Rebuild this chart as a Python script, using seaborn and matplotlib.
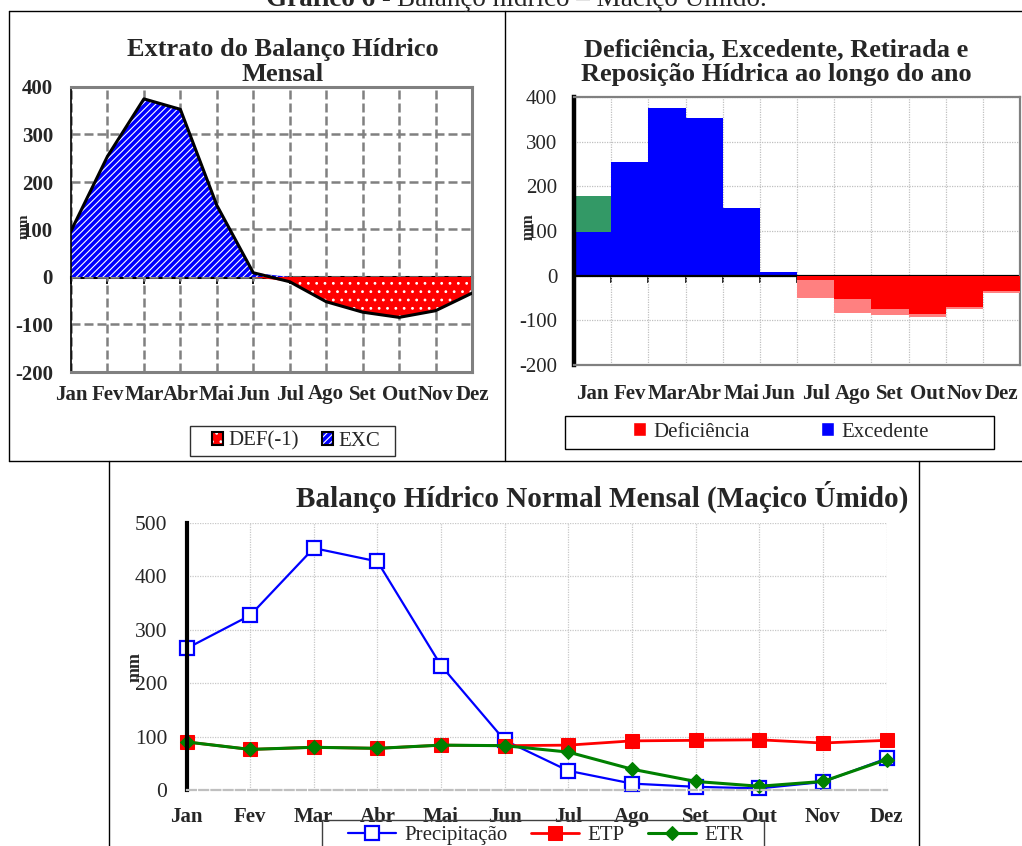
import numpy as np
import matplotlib
matplotlib.use("Agg")
import matplotlib.pyplot as plt
from matplotlib.patches import Patch, Rectangle
from matplotlib.lines import Line2D
from matplotlib.ticker import FixedLocator
import seaborn as sns

# ---------------- data (mm) ----------------
meses = ["Jan", "Fev", "Mar", "Abr", "Mai", "Jun", "Jul", "Ago", "Set", "Out", "Nov", "Dez"]

excedente = [97, 254, 375, 353, 151, 9, 0, 0, 0, 0, 0, 0]
deficiencia = [0, 0, 0, 0, 0, 0, -10, -52, -74, -85, -71, -34]   # DEF(-1)
retirada = [0, 0, 0, 0, 0, 0, -40, -31, -13, -7, -3, -5]
reposicao = [81, 0, 0, 0, 0, 0, 0, 0, 0, 0, 0, 0]

precipitacao = [265, 327, 453, 428, 233, 93, 36, 12, 6, 3, 15, 59]
etp = [90, 76, 80, 78, 84, 83, 84, 92, 93, 94, 88, 93]
etr = [90, 76, 80, 78, 84, 83, 71, 39, 16, 7, 16, 57]

yticks_balanco = [-200, -100, 0, 100, 200, 300, 400]
yticks_normal = [0, 100, 200, 300, 400, 500]

# ---------------- style ----------------
sns.set_style("white")
SERIF = ["Liberation Serif", "DejaVu Serif"]
plt.rcParams["font.family"] = SERIF
plt.rcParams["hatch.linewidth"] = 0.8
plt.rcParams["axes.unicode_minus"] = False

W, H = 1022, 846
fig = plt.figure(figsize=(W / 100, H / 100), dpi=100)


def box(x0, y0, x1, y1):
    """Pixel box (top-left origin) -> figure fraction rect."""
    return [x0 / W, 1 - y1 / H, (x1 - x0) / W, (y1 - y0) / H]


def fpt(x, y):
    return x / W, 1 - y / H


def hline(y, x0, x1, **kw):
    fig.add_artist(Line2D([x0 / W, x1 / W], [1 - y / H, 1 - y / H],
                          transform=fig.transFigure, **kw))


def vline(x, y0, y1, **kw):
    fig.add_artist(Line2D([x / W, x / W], [1 - y0 / H, 1 - y1 / H],
                          transform=fig.transFigure, **kw))


def frame(x0, y0, x1, y1, **kw):
    fig.add_artist(Rectangle((x0 / W, 1 - y1 / H), (x1 - x0) / W, (y1 - y0) / H,
                             transform=fig.transFigure, fill=False, **kw))


x = np.arange(len(meses))
exc = np.array(excedente)
dfc = np.array(deficiencia)

# ---------------- header & table rules ----------------
fig.text(*fpt(391, 6), "Gráfico 6 -", fontsize=19.5, fontweight="bold",
         ha="right", va="baseline")
fig.text(*fpt(397, 6), "Balanço hídrico – Maciço Úmido.", fontsize=19.5,
         ha="left", va="baseline")
rule = dict(color="black", linewidth=1.0)
hline(11, 9, 1022, **rule)
hline(461, 9, 1022, **rule)
vline(9, 11, 461, **rule)
vline(505, 11, 461, **rule)
vline(109, 461, 846, **rule)
vline(919, 461, 846, **rule)

# ---------------- panel 1: extrato (area) ----------------
ax1 = fig.add_axes(box(71, 87, 472, 372))
ax1.fill_between(x, 0, exc, facecolor="#0000FF", edgecolor="white",
                 hatch="/////", linewidth=0, zorder=2)
ax1.fill_between(x, 0, dfc, facecolor="#FF0000", edgecolor="white",
                 hatch="..", linewidth=0, zorder=2)
sns.lineplot(x=x, y=exc + dfc, color="black", linewidth=2.2, ax=ax1, zorder=3)
ax1.set_xlim(0, 11)
ax1.set_ylim(-200, 400)
ax1.set_yticks(yticks_balanco)
ax1.set_xticks(x)
ax1.set_xticklabels(meses)
ax1.grid(True, color="#808080", linestyle=(0, (3.6, 1.6)), linewidth=1.8)
ax1.set_axisbelow(True)
for s in ["top", "right", "bottom"]:
    ax1.spines[s].set(color="#808080", linewidth=2.2)
ax1.spines["left"].set(color="black", linewidth=1.2)
ax1.tick_params(axis="y", direction="out", length=5, width=1, color="black",
                pad=8, labelsize=15)
ax1.tick_params(axis="x", length=0, pad=9, labelsize=15)
for t in ax1.get_xticklabels() + ax1.get_yticklabels():
    t.set_fontweight("bold")
z1 = ax1.secondary_xaxis(1 / 3)
z1.set_xticks(x)
z1.tick_params(length=5, width=1.3, color="black", labelbottom=False, labeltop=False)
for s in ["top", "bottom"]:
    z1.spines[s].set(color="black", linewidth=2.2)

fig.text(*fpt(283, 62), "Extrato do Balanço Hídrico\nMensal", fontsize=19,
         fontweight="bold", ha="center", va="center", linespacing=1.1)
fig.text(*fpt(24, 226), "mm", fontsize=11, fontweight="bold", rotation=90,
         ha="center", va="center")

hatch_border = Patch(facecolor="none", edgecolor="black", linewidth=1.5)
h_def = (Patch(facecolor="#FF0000", edgecolor="white", hatch="..", linewidth=0), hatch_border)
h_exc = (Patch(facecolor="#0000FF", edgecolor="white", hatch="/////", linewidth=0), hatch_border)
ax1.legend([h_def, h_exc], ["DEF(-1)", "EXC"], loc="center",
           bbox_to_anchor=fpt(296, 441), bbox_transform=fig.transFigure,
           ncol=2, frameon=False, fontsize=15, handlelength=0.55,
           handleheight=0.55, handletextpad=0.25, columnspacing=1.1)
frame(190, 426, 395, 456, edgecolor="#303030", linewidth=1.0)

# ---------------- panel 2: stacked columns ----------------
ax2 = fig.add_axes(box(574, 97, 1020, 365))
tot_pos = [e + r for e, r in zip(excedente, reposicao)]
tot_neg = [d + r for d, r in zip(deficiencia, retirada)]
bar_kw = dict(saturation=1, width=1, errorbar=None, linewidth=0, ax=ax2)
sns.barplot(x=meses, y=tot_pos, color="#339966", zorder=1, **bar_kw)
sns.barplot(x=meses, y=excedente, color="#0000FF", zorder=1, **bar_kw)
sns.barplot(x=meses, y=tot_neg, color="#FF8080", zorder=3, **bar_kw)
sns.barplot(x=meses, y=deficiencia, color="#FF0000", zorder=3, **bar_kw)
ax2.axhline(0, color="black", linewidth=1.6, zorder=2)
ax2.set_xlim(-0.5, 11.5)
ax2.set_ylim(-200, 400)
ax2.set_yticks(yticks_balanco)
ax2.set_xlabel("")
ax2.set_ylabel("")
ax2.xaxis.set_minor_locator(FixedLocator(np.arange(0.5, 11, 1)))
ax2.grid(True, which="minor", axis="x", color="#c0c0c0",
         linestyle=(0, (1, 1)), linewidth=0.9)
ax2.grid(True, which="major", axis="y", color="#c0c0c0",
         linestyle=(0, (1, 1)), linewidth=0.9)
ax2.set_axisbelow(True)
for s in ["top", "right", "bottom"]:
    ax2.spines[s].set(color="#808080", linewidth=1.6)
ax2.spines["left"].set(color="black", linewidth=3.2)
ax2.tick_params(axis="y", direction="out", length=5, width=2.6, color="black",
                pad=7, labelsize=15)
ax2.tick_params(axis="x", which="both", length=0, pad=14, labelsize=15)
for t in ax2.get_xticklabels():
    t.set_fontweight("bold")
z2 = ax2.secondary_xaxis(1 / 3)
z2.set_xticks(np.arange(0.5, 12, 1))
z2.tick_params(length=5, width=1.2, color="black", labelbottom=False, labeltop=False)
for s in ["top", "bottom"]:
    z2.spines[s].set_visible(False)

fig.text(*fpt(776, 62), "Deficiência, Excedente, Retirada e\nReposição Hídrica ao longo do ano",
         fontsize=19, fontweight="bold", ha="center", va="center", linespacing=1.1)
fig.text(*fpt(529, 227), "mm", fontsize=11.5, fontweight="bold", rotation=90,
         ha="center", va="center")
ax2.legend([Patch(facecolor="#FF0000"), Patch(facecolor="#0000FF")],
           ["Deficiência", "Excedente"], loc="center",
           bbox_to_anchor=fpt(781, 432), bbox_transform=fig.transFigure,
           ncol=2, frameon=False, fontsize=15, handlelength=0.65,
           handleheight=0.65, handletextpad=0.35, columnspacing=3.4)
frame(565, 416, 994, 449, edgecolor="black", linewidth=1.0)

# ---------------- panel 3: monthly lines ----------------
ax3 = fig.add_axes(box(186.5, 523, 886.5, 790))
sns.lineplot(x=x, y=precipitacao, color="#0000FF", linewidth=1.6, marker="s",
             markersize=10, markerfacecolor="white", markeredgecolor="#0000FF",
             markeredgewidth=1.6, label="Precipitação", clip_on=False, ax=ax3)
sns.lineplot(x=x, y=etp, color="#FF0000", linewidth=2.0, marker="s",
             markersize=10, markerfacecolor="#FF0000", markeredgecolor="#FF0000",
             label="ETP", clip_on=False, ax=ax3)
sns.lineplot(x=x, y=etr, color="#008000", linewidth=2.2, marker="D",
             markersize=7.5, markerfacecolor="#008000", markeredgecolor="#008000",
             label="ETR", clip_on=False, ax=ax3)
ax3.set_xlim(0, 11)
ax3.set_ylim(0, 500)
ax3.set_yticks(yticks_normal)
ax3.set_xticks(x)
ax3.set_xticklabels(meses)
ax3.set_xlabel("")
ax3.set_ylabel("")
ax3.grid(True, color="#c8c8c8", linestyle=(0, (1, 1)), linewidth=0.9)
ax3.set_axisbelow(True)
ax3.spines["top"].set_visible(False)
ax3.spines["right"].set_visible(False)
ax3.spines["bottom"].set(color="#bfbfbf", linewidth=1.6, linestyle=(0, (4, 1.5)))
ax3.spines["left"].set(color="black", linewidth=3)
ax3.tick_params(axis="y", direction="inout", length=8, width=3, color="black",
                pad=10, labelsize=15.5)
ax3.tick_params(axis="x", length=0, pad=12, labelsize=15)
for t in ax3.get_xticklabels():
    t.set_fontweight("bold")

fig.text(*fpt(602, 497), "Balanço Hídrico Normal Mensal (Maçico Úmido)",
         fontsize=21, fontweight="bold", ha="center", va="center")
fig.text(*fpt(135, 667), "mm", fontsize=13, fontweight="bold", rotation=90,
         ha="center", va="center")
handles, labels = ax3.get_legend_handles_labels()
ax3.legend(handles, labels, loc="center",
           bbox_to_anchor=fpt(546, 835), bbox_transform=fig.transFigure,
           ncol=3, frameon=False, fontsize=15, handlelength=2.3,
           handletextpad=0.43, columnspacing=1.1, numpoints=1)
frame(322, 820, 763.5, 870, edgecolor="#404040", linewidth=1.0)

fig.savefig("out.png", dpi=100)
